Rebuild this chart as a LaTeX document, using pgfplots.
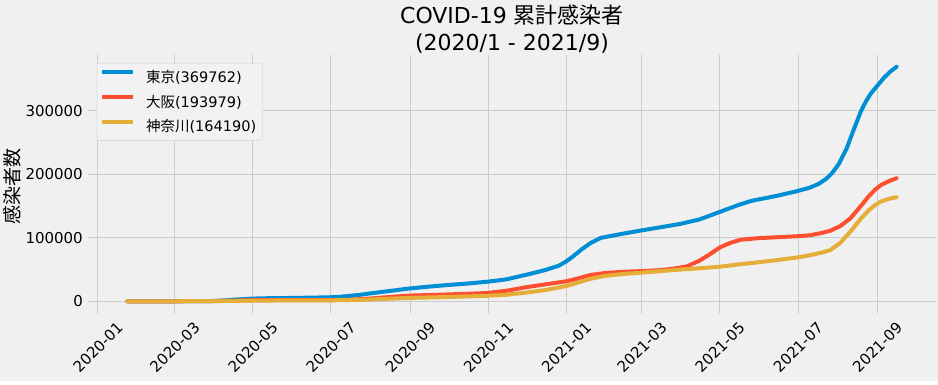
\documentclass[border=0pt]{standalone}
\usepackage{graphicx}
\usepackage{pgfplots}
\pgfplotsset{compat=1.18}
\usepackage{fontspec}
\setmainfont{DejaVu Sans}
\newfontfamily\jp{Noto Sans CJK JP}
\definecolor{bgcol}{HTML}{F0F0F0}
\definecolor{gridcol}{HTML}{CBCBCB}
\definecolor{cBlue}{HTML}{008FD5}
\definecolor{cRed}{HTML}{FC4F30}
\definecolor{cYel}{HTML}{E5AE38}
\definecolor{legfill}{HTML}{F2F2F2}
\definecolor{legedge}{HTML}{DCDCDC}

\pgfplotstableread{
day val
23 1
59 40
75 80
85 200
90 520
98 1300
105 2400
113 3300
120 4150
135 4950
151 5230
181 6230
190 7200
196 8400
205 10300
212 12230
227 16000
243 20100
258 23000
273 25600
289 28000
304 30800
319 34500
334 41500
349 49000
360 56000
366 63000
372 72000
378 82000
385 92000
393 100000
410 106500
424 111500
439 116500
455 122000
470 129000
486 141000
500 151500
510 158000
516 160500
531 166500
546 173500
556 179000
563 185000
569 193000
574 203000
579 217000
585 241000
590 268000
596 299000
600 315000
604 328000
609 340000
614 352000
619 362000
624 369762
}\tokyo

\pgfplotstableread{
day val
23 0
60 10
75 80
90 280
105 1000
120 1620
151 1780
181 1880
196 2400
212 4200
227 6600
243 8900
273 10700
304 13000
319 16500
334 22000
349 26500
366 31500
375 36000
385 41500
396 44500
410 46500
424 47500
439 49000
450 51500
460 55000
470 64000
478 74000
486 85000
494 92000
502 97000
516 99500
531 101000
546 102500
556 104000
565 107500
572 111000
580 118500
588 131000
596 150000
602 165000
607 175500
612 183500
618 189500
624 193979
}\osaka

\pgfplotstableread{
day val
23 0
60 20
90 250
105 600
120 1050
151 1350
181 1500
196 1900
212 2800
227 4000
243 5300
273 6700
304 8600
319 10300
334 13500
349 17500
366 24000
375 29500
385 35500
396 40000
410 43000
424 45000
439 47500
455 50000
470 52000
486 54500
500 58000
516 61500
531 65000
546 69000
556 72500
565 76500
572 80500
580 92000
588 110000
596 130000
602 143000
607 151500
612 157500
618 161500
624 164190
}\kanagawa

\begin{document}
\begin{tikzpicture}[x=1pt,y=1pt]
\fill[bgcol] (0,0) rectangle (938,384);
\fill[white] (0,0) rectangle (938,3);
\path[use as bounding box] (0,0) rectangle (938,384);
\begin{axis}[
  at={(89pt,71pt)}, anchor=south west,
  width=846pt, height=258pt, scale only axis,
  xmin=-7, xmax=654, ymin=-18488, ymax=388250,
  axis background/.style={fill=bgcol},
  axis line style={draw=none},
  tick style={draw=none},
  grid=major,
  major grid style={draw=gridcol, line width=1pt},
  scaled y ticks=false,
  /pgf/number format/assume math mode=true,
  xtick={0,60,121,182,244,305,366,425,486,547,609},
  xticklabels={\rotatebox{45}{2020-01},\rotatebox{45}{2020-03},\rotatebox{45}{2020-05},\rotatebox{45}{2020-07},\rotatebox{45}{2020-09},\rotatebox{45}{2020-11},\rotatebox{45}{2021-01},\rotatebox{45}{2021-03},\rotatebox{45}{2021-05},\rotatebox{45}{2021-07},\rotatebox{45}{2021-09}},
  ytick={0,100000,200000,300000},
  yticklabels={0,100000,200000,300000},
  xticklabel style={font=\fontsize{15}{18}\selectfont, anchor=north, inner sep=0pt, yshift=-8pt},
  yticklabel style={font=\fontsize{15}{18}\selectfont, anchor=east, inner sep=0pt, xshift=-6pt},
  ylabel={\jp 感染者数},
  every axis y label/.style={at={(axis description cs:-0.091,0.49)}, rotate=90, anchor=center, font=\fontsize{19}{22}\selectfont},
  legend style={at={(axis description cs:0.0091,0.9694)}, anchor=north west,
    fill=legfill, draw=legedge, line width=0.8pt, rounded corners=2pt,
    font=\fontsize{14.5}{17}\selectfont, inner xsep=3pt, inner ysep=4pt,
    row sep=5pt, nodes={inner sep=3pt}},
  legend cell align=left,
  legend image code/.code={\draw[#1, line width=4pt] (0pt,5pt) -- (31pt,5pt); \path (39pt,5pt);},
  line join=round, line cap=round,
]
\addplot[cBlue, line width=4pt] table[x=day, y=val] {\tokyo};
\addlegendentry{{\jp 東京}(369762)}
\addplot[cRed, line width=4pt] table[x=day, y=val] {\osaka};
\addlegendentry{{\jp 大阪}(193979)}
\addplot[cYel, line width=4pt] table[x=day, y=val] {\kanagawa};
\addlegendentry{{\jp 神奈川}(164190)}
\end{axis}
\node[anchor=base, font=\fontsize{22}{26}\selectfont] at (512,360) {COVID-19 {\jp 累計感染者}};
\node[anchor=base, font=\fontsize{22}{26}\selectfont] at (512,334) {(2020/1 - 2021/9)};
\end{tikzpicture}
\end{document}
